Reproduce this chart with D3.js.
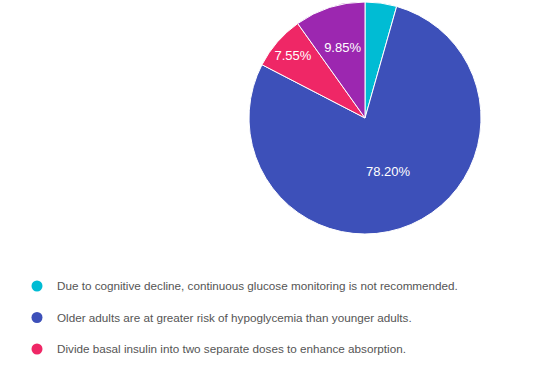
<!DOCTYPE html>
<html>
<head>
<meta charset="utf-8">
<script src="https://cdn.jsdelivr.net/npm/d3@7"></script>
<style>
  body { margin: 0; background: #fff; }
  svg { display: block; font-family: Arial, "Liberation Sans", sans-serif; }
</style>
</head>
<body>
<div id="chart"></div>
<script>
// chart data
const categories = [
  'Due to cognitive decline, continuous glucose monitoring is not recommended.',
  'Older adults are at greater risk of hypoglycemia than younger adults.',
  'Divide basal insulin into two separate doses to enhance absorption.',
  ''
];
const values = [4.40, 78.20, 7.55, 9.85];
const colors = ['#00bcd4', '#3d50b9', '#ef2766', '#9c27b0'];

const width = 552, height = 372;
const cx = 365, cy = 118, radius = 116;

const svg = d3.select('#chart')
  .append('svg')
  .attr('width', width)
  .attr('height', height);

const pie = d3.pie().sort(null).value(d => d.value);
const arc = d3.arc().innerRadius(0).outerRadius(radius);

const rows = categories.map((c, i) => ({ name: c, value: values[i], color: colors[i] }));
const arcs = pie(rows);

const g = svg.append('g').attr('transform', `translate(${cx}, ${cy})`);

g.selectAll('path')
  .data(arcs)
  .enter().append('path')
  .attr('d', arc)
  .attr('fill', d => d.data.color)
  .attr('stroke', '#fff')
  .attr('stroke-width', 1);

// labels: start at half radius, push outward until the text fits in the wedge
const labels = g.selectAll('text.lbl')
  .data(arcs)
  .enter().append('text')
  .attr('class', 'lbl')
  .attr('text-anchor', 'middle')
  .attr('dy', '0.35em')
  .attr('fill', '#fff')
  .attr('font-size', 13)
  .text(d => d.data.value.toFixed(2) + '%');

labels.each(function (d) {
  const w = this.getComputedTextLength();
  const half = (d.endAngle - d.startAngle) / 2;
  let r = Math.max(radius * 0.5, (w / 2 + 4) / Math.sin(Math.min(half, Math.PI / 2)));
  if (r > radius * 0.85) {
    d3.select(this).remove();
    return;
  }
  const a = (d.startAngle + d.endAngle) / 2;
  d3.select(this)
    .attr('x', r * Math.sin(a))
    .attr('y', -r * Math.cos(a));
});

// legend
const legend = svg.append('g')
  .attr('class', 'legend')
  .attr('transform', 'translate(37, 286)');

const item = legend.selectAll('g')
  .data(rows)
  .enter().append('g')
  .attr('transform', (d, i) => `translate(0, ${i * 31.5})`);

item.append('circle')
  .attr('r', 5.5)
  .attr('fill', d => d.color);

item.append('text')
  .attr('x', 20)
  .attr('dy', '0.35em')
  .attr('font-size', 11.7)
  .attr('fill', '#555')
  .text(d => d.name);
</script>
</body>
</html>
